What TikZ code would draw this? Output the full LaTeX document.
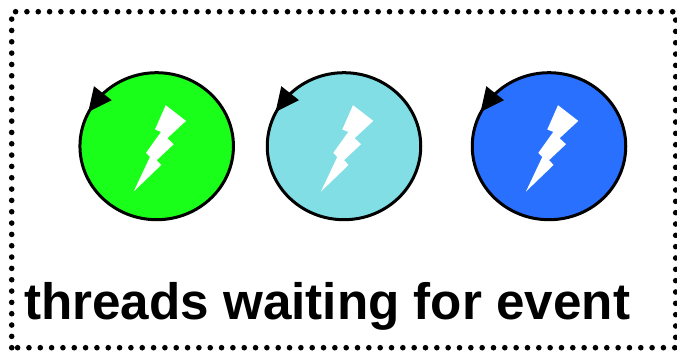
\documentclass[tikz,border=0pt]{standalone}
\usepackage{fontspec}
\usetikzlibrary{shapes.geometric}
\setmainfont{Liberation Sans}
\definecolor{cgreen}{RGB}{26,255,26}
\definecolor{ccyan}{RGB}{128,222,228}
\definecolor{cblue}{RGB}{41,112,255}
\tikzset{
  frameline/.style={draw=black,line width=5.6pt,line cap=round,dash pattern=on 0pt off 11.33pt},
  threadcircle/.style={ellipse,draw=black,line width=3pt,minimum width=153.5pt,minimum height=147pt,inner sep=0pt,outer sep=0pt},
  label text/.style={font=\bfseries\fontsize{51.2}{51.2}\selectfont,inner sep=0pt,anchor=base west},
  pics/thread/.style={code={
    \fill[black] (-62.7,-60) -- (-45,-46) -- (-68.4,-34.3) -- cycle;
    \fill[white] (9,-41) -- (29.3,-25.3) -- (10.6,-8) -- (17,-2) -- (0,14) -- (4.6,18.7) -- (-23,45.3) -- (-6.7,10.7) -- (-10.7,6.7) -- (4.3,-14.3) -- (-1.7,-16.7) -- cycle;
  }}
}
\begin{document}
\begin{tikzpicture}[x=1pt,y=-1pt]
\useasboundingbox (0,0) rectangle (677,351);
\fill[white] (0,0) rectangle (677,351);
\draw[frameline] (11.7,347.7) -- (11.7,11.7) -- (675.7,11.7) -- (675.7,347.7) -- cycle;
\node[threadcircle,fill=cgreen] (a) at (156.7,146.2) {};
\node[threadcircle,fill=ccyan] (b) at (344,146.2) {};
\node[threadcircle,fill=cblue] (c) at (549,146.2) {};
\pic at (a) {thread};
\pic at (b) {thread};
\pic at (c) {thread};
\node[label text] (t) at (24,319) {threads waiting for event};
\end{tikzpicture}
\end{document}
